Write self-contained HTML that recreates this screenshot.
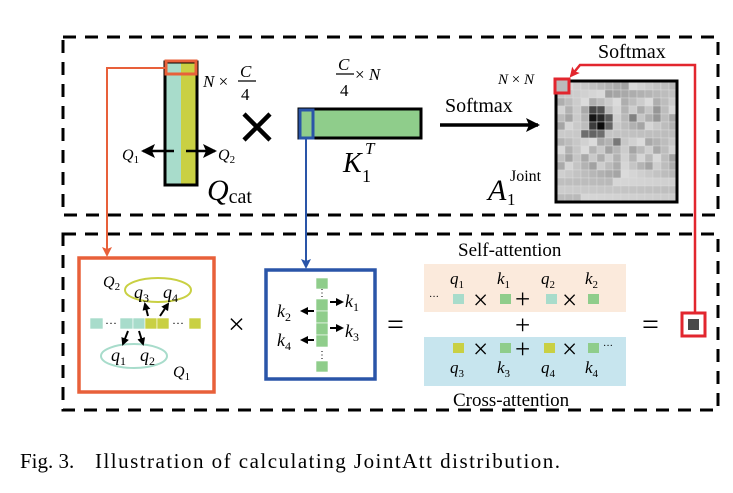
<!DOCTYPE html><html><head><style>body{margin:0;background:#fff}svg{display:block}text{font-family:"Liberation Serif",serif}</style></head><body>
<svg width="733" height="493" viewBox="0 0 733 493" xmlns="http://www.w3.org/2000/svg">
<defs>
<marker id="ab" markerWidth="8" markerHeight="8" refX="6" refY="4" orient="auto" markerUnits="userSpaceOnUse"><path d="M0,0 L8,4 L0,8 Z" fill="#000"/></marker>
<marker id="abig" markerWidth="14" markerHeight="14" refX="12" refY="7" orient="auto" markerUnits="userSpaceOnUse"><path d="M0,0 L14,7 L0,14 L3,7Z" fill="#000"/></marker>
<marker id="ao" markerWidth="10" markerHeight="10" refX="8" refY="5" orient="auto" markerUnits="userSpaceOnUse"><path d="M0,0 L10,5 L0,10 L2,5Z" fill="#e8603a"/></marker>
<marker id="abl" markerWidth="10" markerHeight="10" refX="8" refY="5" orient="auto" markerUnits="userSpaceOnUse"><path d="M0,0 L10,5 L0,10 L2,5Z" fill="#2a55a8"/></marker>
<marker id="ar" markerWidth="10" markerHeight="10" refX="8" refY="5" orient="auto" markerUnits="userSpaceOnUse"><path d="M0,0 L10,5 L0,10 L2,5Z" fill="#e2262e"/></marker>
</defs>
<g fill="none" stroke="#000" stroke-width="3" stroke-dasharray="13,9">
<rect x="63" y="37" width="655" height="178"/>
<rect x="63" y="234" width="655" height="176"/>
</g>
<rect x="165" y="62" width="16" height="123" fill="#a8dccb"/>
<rect x="181" y="62" width="16" height="123" fill="#c9d043"/>
<rect x="165" y="62" width="32" height="123" fill="none" stroke="#000" stroke-width="3"/>
<rect x="166" y="61" width="30" height="13" fill="none" stroke="#e8603a" stroke-width="3"/>
<line x1="174" y1="151" x2="143" y2="151" stroke="#000" stroke-width="2.5" marker-end="url(#abig)"/>
<line x1="186" y1="151" x2="215" y2="151" stroke="#000" stroke-width="2.5" marker-end="url(#abig)"/>
<text x="122" y="160" font-size="16" font-style="italic">Q<tspan font-size="11" dy="3" font-style="normal">1</tspan></text>
<text x="218" y="160" font-size="16" font-style="italic">Q<tspan font-size="11" dy="3" font-style="normal">2</tspan></text>
<text x="207" y="200" font-size="30" font-style="italic">Q<tspan font-size="20" dy="3" font-style="normal">cat</tspan></text>
<text x="203" y="87" font-size="17"><tspan font-style="italic">N</tspan> ×</text>
<text x="240" y="77" font-size="17" font-style="italic">C</text><line x1="238" y1="81" x2="256" y2="81" stroke="#000" stroke-width="1.3"/><text x="241" y="100" font-size="17">4</text>
<text x="338" y="70" font-size="17" font-style="italic">C</text><line x1="336" y1="74" x2="354" y2="74" stroke="#000" stroke-width="1.3"/><text x="340" y="96" font-size="17">4</text>
<text x="355" y="80" font-size="17">× <tspan font-style="italic">N</tspan></text>
<path d="M244,114 L270,140 M270,114 L244,140" stroke="#000" stroke-width="4.5"/>
<rect x="299" y="109" width="122" height="29" fill="#8fcd8b" stroke="#000" stroke-width="3"/>
<rect x="300" y="110" width="13" height="28" fill="none" stroke="#2a55a8" stroke-width="3"/>
<text x="343" y="172" font-size="28" font-style="italic">K</text><text x="362" y="182" font-size="18">1</text><text x="365" y="154" font-size="17" font-style="italic">T</text>
<text x="445" y="112" font-size="20">Softmax</text>
<line x1="440" y1="125" x2="538" y2="125" stroke="#000" stroke-width="3.5" marker-end="url(#abig)"/>
<g id="hm"></g>
<rect x="556" y="81" width="121" height="121" fill="none" stroke="#000" stroke-width="3"/>
<rect x="555" y="79" width="14" height="14" fill="#bbb" stroke="#e2262e" stroke-width="3"/>
<text x="498" y="84" font-size="15" font-style="italic">N <tspan font-style="normal">×</tspan> N</text>
<text x="598" y="58" font-size="20">Softmax</text>
<polyline points="695,312 695,65 580,65 571,76" fill="none" stroke="#e2262e" stroke-width="2.5" marker-end="url(#ar)"/>
<text x="488" y="200" font-size="30" font-style="italic">A</text><text x="507" y="205" font-size="17">1</text><text x="510" y="181" font-size="16">Joint</text>
<polyline points="166,68 107,68 107,255" fill="none" stroke="#e8603a" stroke-width="2" marker-end="url(#ao)"/>
<line x1="306" y1="139" x2="306" y2="267" stroke="#2a55a8" stroke-width="2" marker-end="url(#abl)"/>
<rect x="79" y="258" width="135" height="134" fill="none" stroke="#e8603a" stroke-width="3.5"/>
<g stroke="#fff" stroke-width="0.6">
<rect x="90" y="318" width="13" height="11" fill="#a8dccb"/>
<rect x="120" y="318" width="13" height="11" fill="#a8dccb"/><rect x="133" y="318" width="12" height="11" fill="#a8dccb"/>
<rect x="145" y="318" width="12" height="11" fill="#c9d043"/><rect x="157" y="318" width="12" height="11" fill="#c9d043"/>
<rect x="189" y="318" width="12" height="11" fill="#c9d043"/>
</g>
<text x="105" y="327" font-size="12">···</text><text x="172" y="327" font-size="12">···</text>
<ellipse cx="158" cy="290" rx="33" ry="12" fill="none" stroke="#c9d043" stroke-width="2"/>
<ellipse cx="134" cy="356" rx="33" ry="12" fill="none" stroke="#a8dccb" stroke-width="2"/>
<g stroke="#000" stroke-width="2">
<line x1="148" y1="316" x2="145" y2="304" marker-end="url(#ab)"/>
<line x1="160" y1="316" x2="168" y2="304" marker-end="url(#ab)"/>
<line x1="128" y1="331" x2="123" y2="344" marker-end="url(#ab)"/>
<line x1="139" y1="331" x2="143" y2="344" marker-end="url(#ab)"/>
</g>
<text x="103" y="287" font-size="16" font-style="italic">Q<tspan font-size="11" dy="3" font-style="normal">2</tspan></text>
<text x="173" y="377" font-size="16" font-style="italic">Q<tspan font-size="11" dy="3" font-style="normal">1</tspan></text>
<text x="134" y="298" font-size="18" font-style="italic">q<tspan font-size="12" dy="4" font-style="normal">3</tspan></text>
<text x="163" y="298" font-size="18" font-style="italic">q<tspan font-size="12" dy="4" font-style="normal">4</tspan></text>
<text x="111" y="361" font-size="18" font-style="italic">q<tspan font-size="12" dy="4" font-style="normal">1</tspan></text>
<text x="140" y="361" font-size="18" font-style="italic">q<tspan font-size="12" dy="4" font-style="normal">2</tspan></text>
<text x="228" y="334" font-size="30">×</text>
<rect x="266" y="270" width="109" height="109" fill="none" stroke="#2a55a8" stroke-width="3.5"/>
<g fill="#8fcd8b" stroke="#fff" stroke-width="0.6">
<rect x="316" y="278" width="12" height="11"/>
<rect x="316" y="299" width="12" height="12"/><rect x="316" y="311" width="12" height="12"/><rect x="316" y="323" width="12" height="12"/><rect x="316" y="335" width="12" height="12"/>
<rect x="316" y="361" width="12" height="11"/>
</g>
<text x="317" y="296" font-size="10">⋮</text><text x="317" y="358" font-size="10">⋮</text>
<g stroke="#000" stroke-width="2">
<line x1="330" y1="302" x2="342" y2="302" marker-end="url(#ab)"/>
<line x1="330" y1="328" x2="342" y2="328" marker-end="url(#ab)"/>
<line x1="314" y1="311" x2="302" y2="311" marker-end="url(#ab)"/>
<line x1="314" y1="340" x2="302" y2="340" marker-end="url(#ab)"/>
</g>
<text x="345" y="307" font-size="18" font-style="italic">k<tspan font-size="12" dy="4" font-style="normal">1</tspan></text>
<text x="345" y="337" font-size="18" font-style="italic">k<tspan font-size="12" dy="4" font-style="normal">3</tspan></text>
<text x="277" y="317" font-size="18" font-style="italic">k<tspan font-size="12" dy="4" font-style="normal">2</tspan></text>
<text x="277" y="346" font-size="18" font-style="italic">k<tspan font-size="12" dy="4" font-style="normal">4</tspan></text>
<text x="387" y="334" font-size="30">=</text>
<text x="458" y="256" font-size="19">Self-attention</text>
<rect x="424" y="264" width="202" height="48" fill="#fbeadc"/>
<rect x="424" y="337" width="202" height="49" fill="#c7e5ee"/>
<text x="453" y="406" font-size="19">Cross-attention</text>
<text x="429" y="300" font-size="10">···</text>
<rect x="453" y="294" width="11" height="10" fill="#a8dccb"/><rect x="500" y="294" width="11" height="10" fill="#8fcd8b"/>
<rect x="546" y="294" width="11" height="10" fill="#a8dccb"/><rect x="588" y="294" width="11" height="10" fill="#8fcd8b"/>
<text x="473" y="309" font-size="27">×</text><text x="515" y="308" font-size="27">+</text><text x="562" y="309" font-size="27">×</text>
<text x="450" y="284" font-size="17" font-style="italic">q<tspan font-size="11" dy="4" font-style="normal">1</tspan></text>
<text x="497" y="284" font-size="17" font-style="italic">k<tspan font-size="11" dy="4" font-style="normal">1</tspan></text>
<text x="541" y="284" font-size="17" font-style="italic">q<tspan font-size="11" dy="4" font-style="normal">2</tspan></text>
<text x="585" y="284" font-size="17" font-style="italic">k<tspan font-size="11" dy="4" font-style="normal">2</tspan></text>
<text x="515" y="334" font-size="27">+</text>
<rect x="453" y="343" width="11" height="10" fill="#c9d043"/><rect x="500" y="343" width="11" height="10" fill="#8fcd8b"/>
<rect x="544" y="343" width="11" height="10" fill="#c9d043"/><rect x="588" y="343" width="11" height="10" fill="#8fcd8b"/>
<text x="473" y="358" font-size="27">×</text><text x="515" y="358" font-size="27">+</text><text x="562" y="358" font-size="27">×</text>
<text x="603" y="349" font-size="10">···</text>
<text x="450" y="373" font-size="17" font-style="italic">q<tspan font-size="11" dy="4" font-style="normal">3</tspan></text>
<text x="497" y="373" font-size="17" font-style="italic">k<tspan font-size="11" dy="4" font-style="normal">3</tspan></text>
<text x="541" y="373" font-size="17" font-style="italic">q<tspan font-size="11" dy="4" font-style="normal">4</tspan></text>
<text x="585" y="373" font-size="17" font-style="italic">k<tspan font-size="11" dy="4" font-style="normal">4</tspan></text>
<text x="642" y="334" font-size="30">=</text>
<rect x="682" y="313" width="23" height="23" fill="#fff" stroke="#e2262e" stroke-width="3"/>
<rect x="688" y="319" width="11" height="11" fill="#4a4a4a"/>
<text x="20" y="468" font-size="21">Fig. 3.</text>
<text x="95" y="468" font-size="21" textLength="465" lengthAdjust="spacing">Illustration of calculating JointAtt distribution.</text>
</svg>
<script>
var g=document.getElementById('hm'),s='';
var dark={'4,4':20,'4,5':40,'5,5':10,'3,4':70,'3,5':80,'5,4':60,'4,6':90,'5,6':100,'6,3':110,'6,4':100,'6,5':110,'4,9':130,'7,7':120,'3,12':150,'4,12':150};
for(var r=0;r<15;r++)for(var c=0;c<15;c++){
var v=160+((r*37+c*53+r*c*11)%60);
if(r>=12)v=185+((r*13+c*29)%30);
var k=r+','+c;if(dark[k]!==undefined)v=dark[k];
s+='<rect x="'+(557+c*8)+'" y="'+(82+r*8)+'" width="8" height="8" fill="rgb('+v+','+v+','+v+')" stroke="#ddd" stroke-width="0.4"/>';}
g.innerHTML=s;
</script>
</body></html>
